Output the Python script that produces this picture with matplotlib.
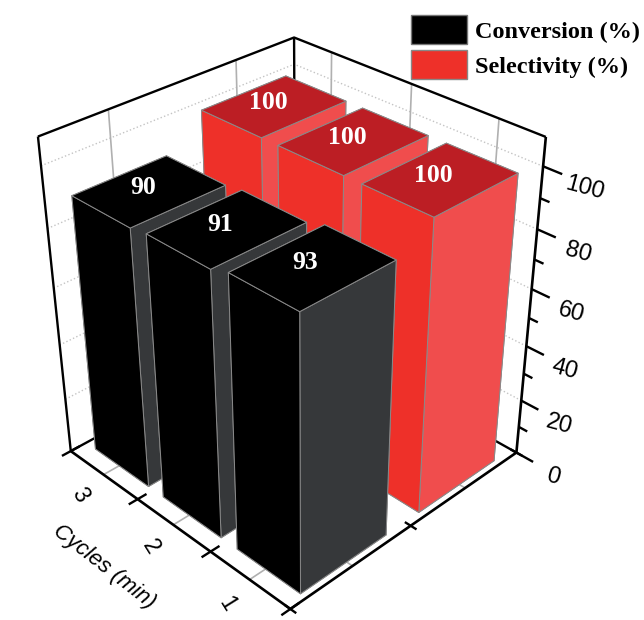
import numpy as np
import matplotlib
matplotlib.use("Agg")
import matplotlib.pyplot as plt
from matplotlib.patches import Patch
from mpl_toolkits.mplot3d import proj3d

plt.rcParams["font.family"] = ["Liberation Sans", "DejaVu Sans"]

cycles = [1, 2, 3]
conversion = [93, 91, 90]
selectivity = [100, 100, 100]
series_names = ["Conversion (%)", "Selectivity (%)"]
z_major = [0, 20, 40, 60, 80, 100]
z_minor = [10, 30, 50, 70, 90]
z_top = 109

black_faces = ["#000000", "#000000", "#36383a", "#36383a", "#000000", "#36383a"]
red_faces = ["#ee3029", "#bc1e24", "#f04d4d", "#f04d4d", "#ee3029", "#f04d4d"]
serif = ["Liberation Serif", "DejaVu Serif"]

fig = plt.figure(figsize=(6.44, 6.2), dpi=100)
ax = fig.add_axes([-38.03 / 644, -2.95 / 620, 1, 1], projection="3d")
ax.set_xlim(0, 2, view_margin=0)
ax.set_ylim(0, 3, view_margin=0)
ax.set_zlim(0, z_top, view_margin=0)
ax.view_init(elev=32.53, azim=-134.16, roll=0.33)
ax.set_proj_type("persp", focal_length=0.457)
ax.set_box_aspect((1, 1, 1.1085), zoom=0.9445)
ax.set_axis_off()
ax.computed_zorder = False


def line(xs, ys, zs, color="black", lw=1.7, ls="-", zorder=1):
    ax.plot(xs, ys, zs, color=color, lw=lw, ls=ls, zorder=zorder, solid_capstyle="butt")


def label(x, y, z, s, **kw):
    # Text3D ignores rotation, so place a 2D text at the projected point
    px, py, _ = proj3d.proj_transform(x, y, z, ax.get_proj())
    ax.text2D(px, py, s, transform=ax.transData, ha="center", va="center", **kw)


# back walls: gridlines first, then the frame
for z in z_major[1:]:
    line([0, 2], [3, 3], [z, z], color="#c4c4c4", lw=1.0, ls=":", zorder=0)
    line([2, 2], [0, 3], [z, z], color="#c4c4c4", lw=1.0, ls=":", zorder=0)
for x in [0.5, 1.5]:
    line([x, x], [3, 3], [0, z_top], color="#b0b0b0", lw=1.2, zorder=0)
    line([x, x], [0, 3], [0, 0], color="#b0b0b0", lw=1.2, zorder=0)
for c in cycles:
    y = c - 0.5
    line([2, 2], [y, y], [0, z_top], color="#b0b0b0", lw=1.2, zorder=0)
    line([0, 2], [y, y], [0, 0], color="#b0b0b0", lw=1.2, zorder=0)

line([0, 2, 2], [3, 3, 0], [z_top, z_top, z_top])
line([2, 2], [3, 3], [0, z_top])
line([0, 0], [3, 3], [0, z_top])
line([2, 2], [0, 0], [0, z_top], lw=1.9)
line([0, 0, 2], [3, 0, 0], [0, 0, 0], lw=1.9)
line([0, 2], [3, 3], [0, 0])
line([2, 2], [0, 3], [0, 0])

# axis ticks and their labels
for z in z_major:
    line([2, 2], [0, -0.2], [z, z])
    label(2, -0.44, z - 1.5, str(z), fontsize=17, rotation=-15, zorder=20)
for z in z_minor:
    line([2, 2], [0, -0.1], [z, z])
for y in [0, 1, 2, 3]:
    line([-0.07, 0.07], [y, y], [0, 0])
for x in [0, 1, 2]:
    line([x, x], [-0.07, 0.07], [0, 0])
for c in cycles:
    label(-0.225, c - 0.585, 0, str(c), fontsize=16.5, rotation=-58, zorder=20)
label(-0.52, 1.5, 0, "Cycles (min)", fontsize=16, style="italic", rotation=-38, zorder=20)

# bars drawn back to front, one column at a time
width_x = 0.71
width_y = 0.79
order = 2
for x0, values, faces in [(1.125, selectivity, red_faces), (0.125, conversion, black_faces)]:
    for c, h in sorted(zip(cycles, values), reverse=True):
        y0 = c - 0.93
        ax.bar3d(x0, y0, 0, width_x, width_y, h, color=faces, shade=False,
                 edgecolor="#8a8a8a", linewidth=0.7, zorder=order)
        label(x0 + width_x / 2, y0 + width_y / 2 + 0.08, h, str(h), color="white", fontsize=18.5,
              fontweight="bold", family=serif, zorder=order + 0.5)
        order += 1

handles = [Patch(facecolor="black", edgecolor="#777777"), Patch(facecolor="#ee3029", edgecolor="#888888")]
fig.legend(handles, series_names, loc="upper right", bbox_to_anchor=(1.012, 0.995), frameon=False,
           prop={"family": serif, "weight": "bold", "size": 17.5},
           handlelength=2.3, handleheight=1.45, handletextpad=0.3, labelspacing=0.25,
           borderaxespad=0.2, borderpad=0.3)

fig.savefig("out.png", dpi=100)
